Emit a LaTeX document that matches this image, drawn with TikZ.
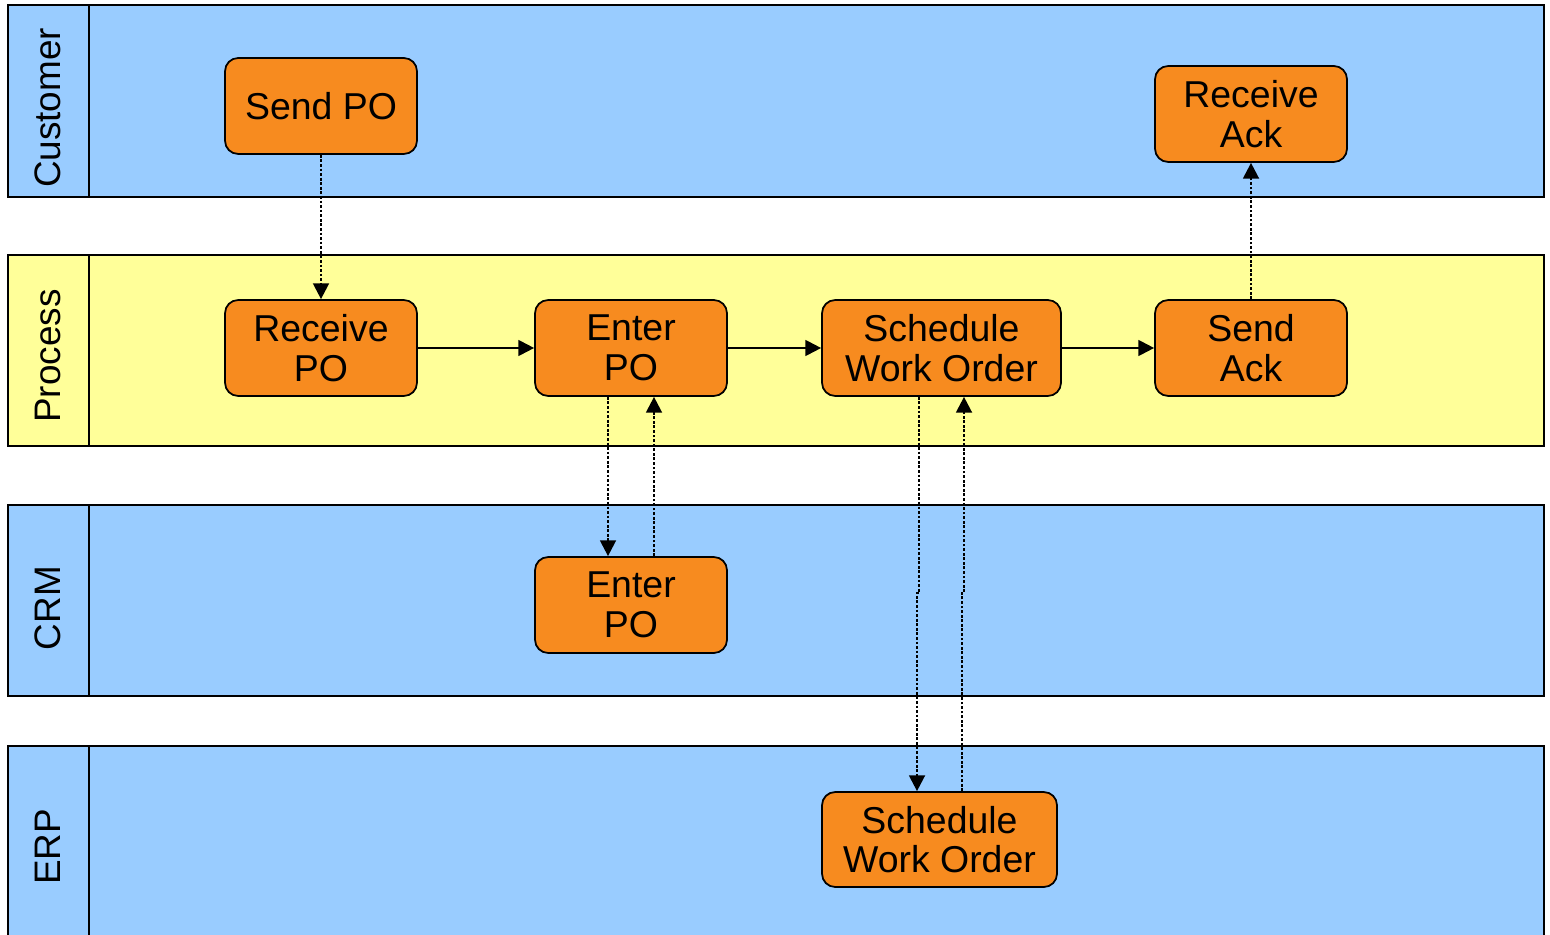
\documentclass[tikz,border=0pt]{standalone}
\usepackage{fontspec}
\setmainfont{Liberation Sans}
\usetikzlibrary{arrows.meta}
\definecolor{laneblue}{HTML}{99CCFF}
\definecolor{laneyellow}{HTML}{FFFF99}
\definecolor{taskorange}{HTML}{F78B1F}

\begin{document}
\begin{tikzpicture}[x=0.02cm,y=-0.02cm,
  lane/.style={draw=black,line width=0.8pt},
  lanelabel/.style={rotate=90,font=\fontsize{21}{22}\selectfont,inner sep=0pt},
  task/.style={draw=black,line width=1pt,fill=taskorange,rounded corners=7.5pt,
    minimum width=3.84cm,minimum height=1.92cm,align=center,
    font=\fontsize{21.3}{22.5}\selectfont,inner sep=0pt},
  flow/.style={line width=1.2pt,-{Triangle[length=9pt,width=9pt]}},
  msg/.style={flow,line width=1.35pt,dash pattern=on 1.6pt off 1pt}]
\useasboundingbox (0,0) rectangle (1550,935);
\fill[white] (0,0) rectangle (1550,935);

% swimlanes
\filldraw[lane,fill=laneblue]   (8,5)   rectangle (1544,197);
\draw[lane] (89,5) -- (89,197);
\filldraw[lane,fill=laneyellow] (8,255) rectangle (1544,446);
\draw[lane] (89,255) -- (89,446);
\filldraw[lane,fill=laneblue]   (8,505) rectangle (1544,696);
\draw[lane] (89,505) -- (89,696);
\filldraw[lane,fill=laneblue]   (8,746) rectangle (1544,960);
\draw[lane] (89,746) -- (89,960);

\node[lanelabel] (lcust) at (48,108) {Customer};
\node[lanelabel] (lproc) at (48,356) {Process};
\node[lanelabel] (lcrm)  at (48,608) {CRM};
\node[lanelabel] (lerp)  at (48,847) {ERP};

% tasks
\node[task] (sendpo)  at (321,106)  {Send PO};
\node[task] (recvack) at (1251,114) {Receive\\Ack};
\node[task] (recvpo)  at (321,348)  {Receive\\PO};
\node[task] (enterpo) at (631,348)  {Enter\\PO};
\node[task,minimum width=4.78cm] (schedp) at (941.5,348) {Schedule\\Work Order};
\node[task] (sendack) at (1251,348) {Send\\Ack};
\node[task] (crmenter) at (631,605) {Enter\\PO};
\node[task,minimum width=4.7cm,minimum height=1.9cm] (erpsched) at (939.5,839.5) {Schedule\\Work Order};

% sequence flow
\draw[flow] (recvpo) -- (enterpo);
\draw[flow] (enterpo) -- (schedp);
\draw[flow] (schedp) -- (sendack);

% message flow
\draw[msg] (sendpo) -- (recvpo);
\draw[msg] (sendack) -- (recvack);

\coordinate (xdown) at (608,0);
\coordinate (xup)   at (654,0);
\draw[msg] (enterpo.south -| xdown) -- (crmenter.north -| xdown);
\draw[msg] (crmenter.north -| xup) -- (enterpo.south -| xup);

\coordinate (jda) at (919,593);
\coordinate (jdb) at (917,593);
\coordinate (jua) at (962,593);
\coordinate (jub) at (964,593);
\draw[msg] (schedp.south -| jda) -- (jda) -- (jdb) -- (erpsched.north -| jdb);
\draw[msg] (erpsched.north -| jua) -- (jua) -- (jub) -- (schedp.south -| jub);
\end{tikzpicture}
\end{document}
